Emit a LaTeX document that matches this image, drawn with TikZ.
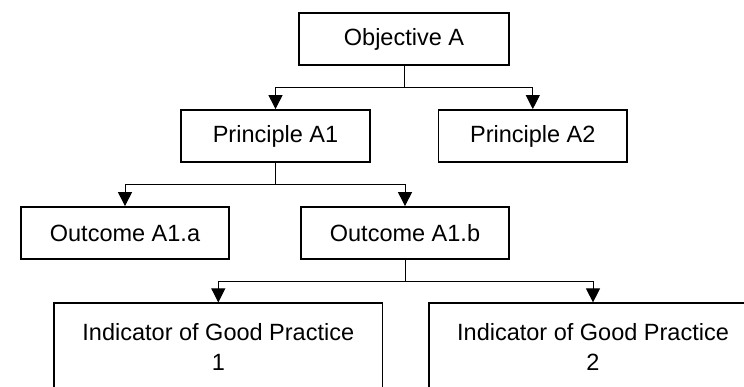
\documentclass[tikz,border=0pt]{standalone}
\usepackage{fontspec}
\setmainfont{Liberation Sans}
\usetikzlibrary{arrows.meta, positioning}

\begin{document}
\begin{tikzpicture}[x=1pt, y=-1pt,
  box/.style={draw, line width=1.8pt, minimum height=52pt, inner sep=0pt, align=center, font=\fontsize{23.5}{30}\selectfont},
  arrow/.style={-{Triangle[length=14pt, width=14pt]}, line width=1pt}
]
\useasboundingbox (0,0) rectangle (744,387);

\node[box, minimum width=210pt] (obj) at (404,39.4) {Objective A};
\node[box, minimum width=188.5pt] (pa1) at (275.5,136) {Principle A1};
\node[box, minimum width=188.5pt] (pa2) at (532.8,136) {Principle A2};
\node[box, minimum width=208pt] (oa) at (125,233) {Outcome A1.a};
\node[box, minimum width=208pt] (ob) at (405,233) {Outcome A1.b};
\node[box, minimum width=328.5pt, minimum height=87pt] (ind1) at (218.3,346.8) {Indicator of Good Practice\\1};
\node[box, minimum width=328.5pt, minimum height=87pt] (ind2) at (593,346.8) {Indicator of Good Practice\\2};

\draw[arrow] (obj.south) -- ++(0,21.7) -| (pa1.north);
\draw[arrow] (obj.south) -- ++(0,21.7) -| (pa2.north);
\draw[arrow] (pa1.south) -- ++(0,22) -| (oa.north);
\draw[arrow] (pa1.south) -- ++(0,22) -| (ob.north);
\draw[arrow] (ob.south) -- ++(0,21.4) -| (ind1.north);
\draw[arrow] (ob.south) -- ++(0,21.4) -| (ind2.north);
\end{tikzpicture}
\end{document}
